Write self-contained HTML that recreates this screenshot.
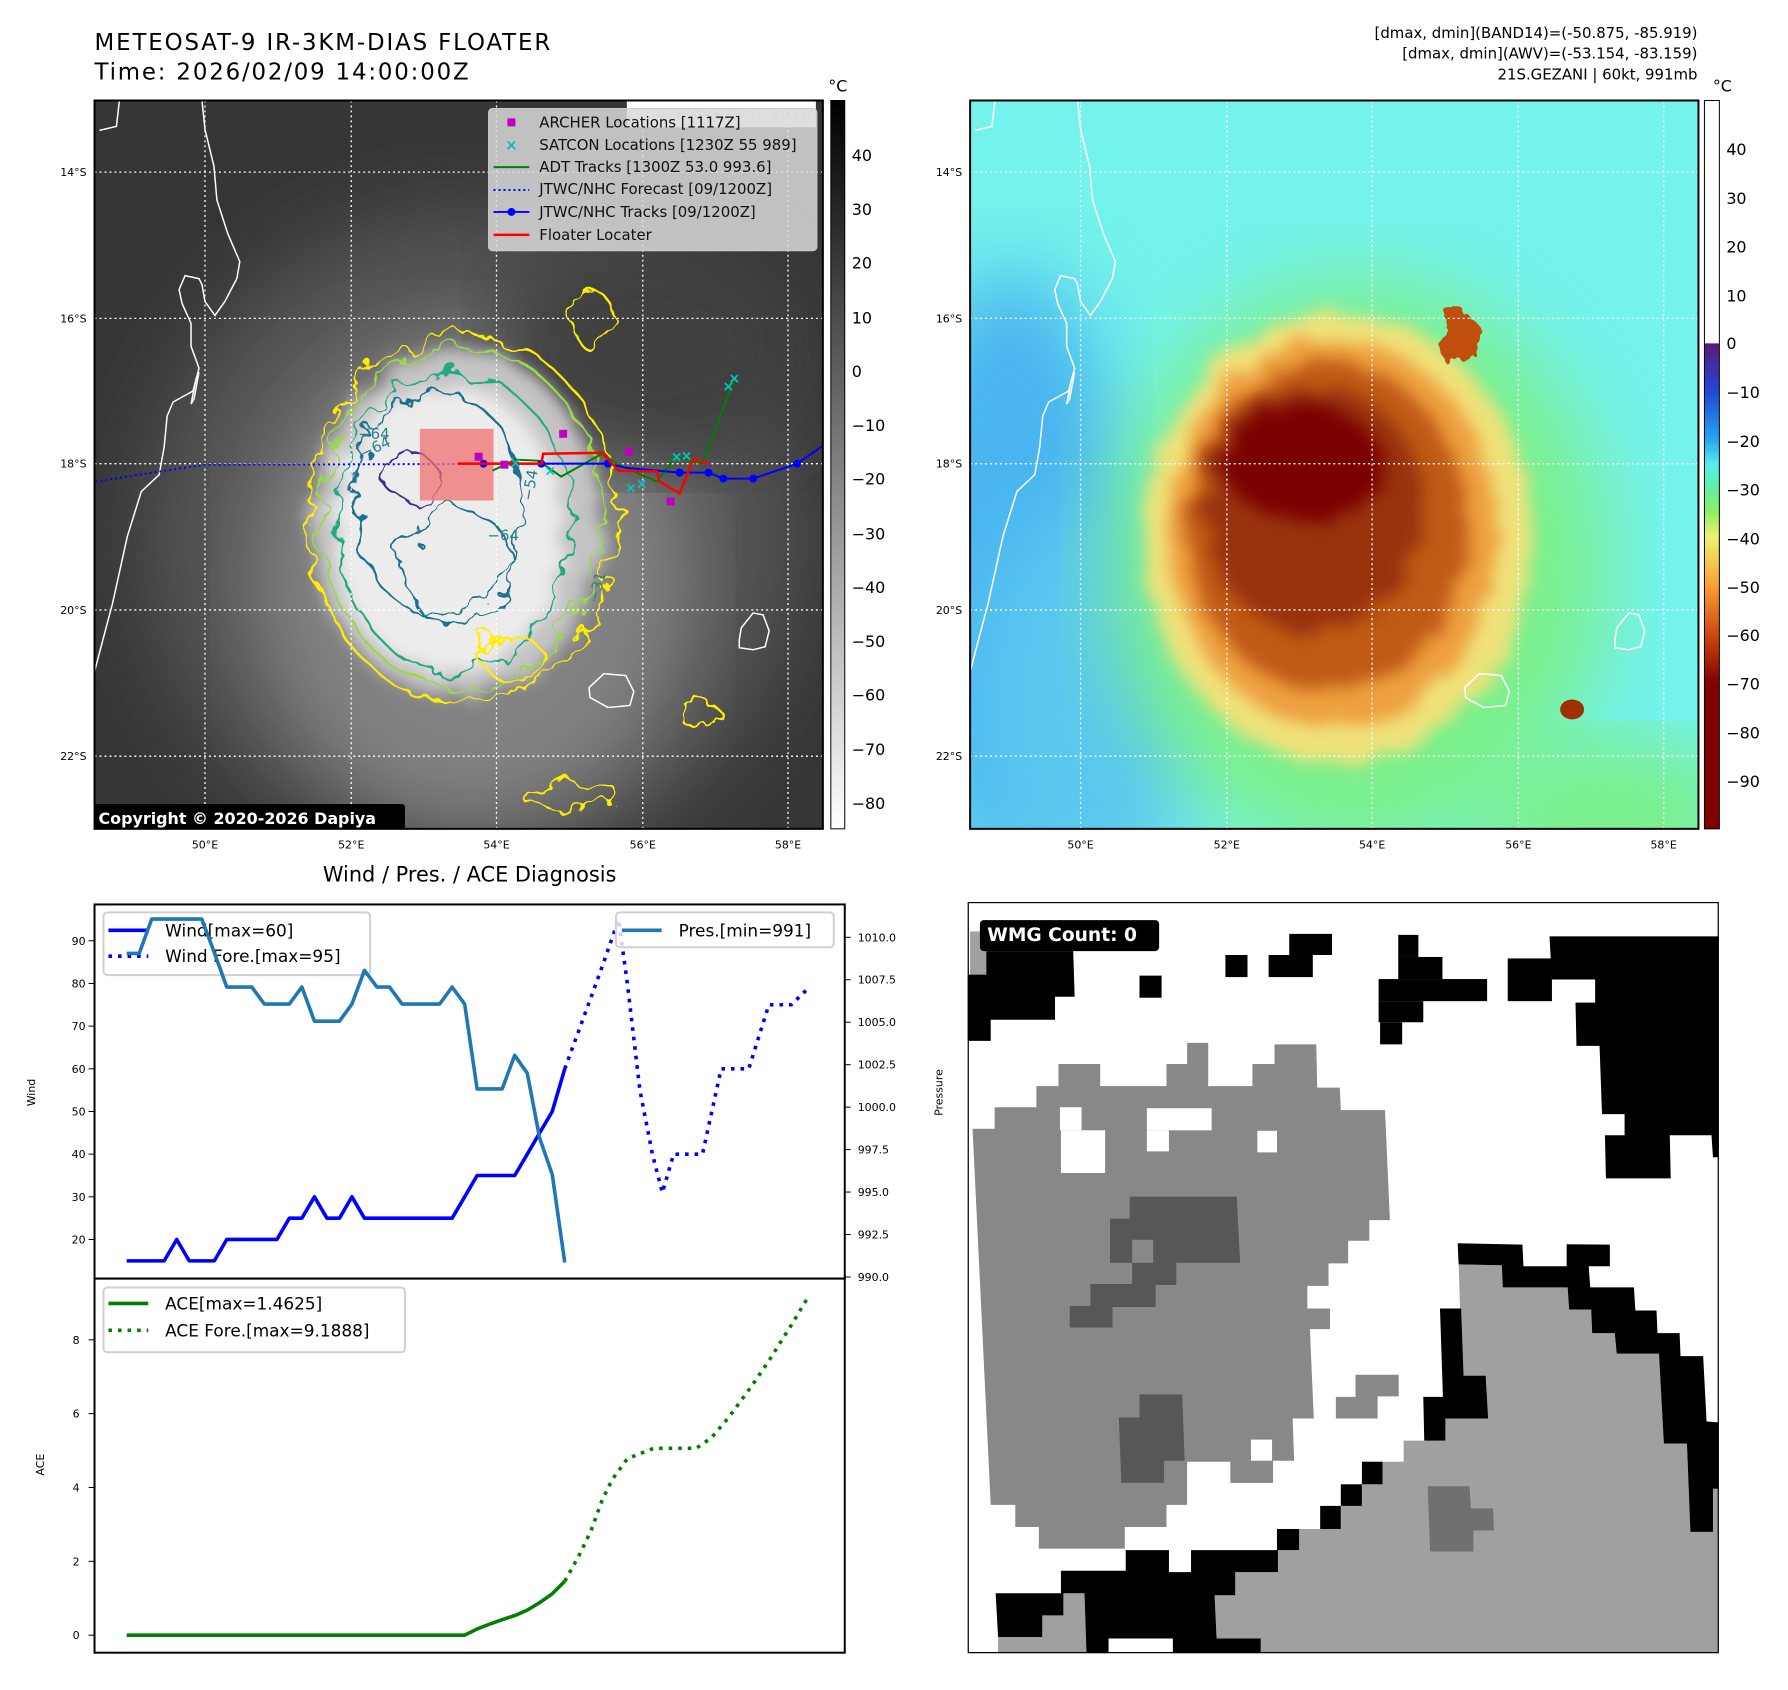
<!DOCTYPE html>
<html><head><meta charset="utf-8"><style>
html,body{margin:0;padding:0;background:#fff;}
svg{display:block;font-family:"DejaVu Sans","Liberation Sans",sans-serif;}
</style></head><body>
<svg id="root" width="1788" height="1690" viewBox="0 0 1788 1690" xmlns="http://www.w3.org/2000/svg">
<defs>
<filter id="wig" x="-20%" y="-20%" width="140%" height="140%"><feTurbulence type="fractalNoise" baseFrequency="0.035" numOctaves="3" seed="4"/><feDisplacementMap in="SourceGraphic" scale="34"/></filter>
<filter id="wig2" x="-20%" y="-20%" width="140%" height="140%"><feTurbulence type="fractalNoise" baseFrequency="0.05" numOctaves="3" seed="9"/><feDisplacementMap in="SourceGraphic" scale="40"/></filter>
<filter id="bl2" x="-30%" y="-30%" width="160%" height="160%"><feTurbulence type="fractalNoise" baseFrequency="0.04" numOctaves="3" seed="2"/><feDisplacementMap in="SourceGraphic" scale="30" result="d"/><feGaussianBlur in="d" stdDeviation="8"/></filter>
<filter id="bl3"><feGaussianBlur stdDeviation="40"/></filter>
<linearGradient id="cbGray" x1="0" y1="0" x2="0" y2="1"><stop offset="0" stop-color="#000"/><stop offset="1" stop-color="#fff"/></linearGradient>
<linearGradient id="cbCol" x1="0" y1="0" x2="0" y2="1">
<stop offset="0" stop-color="#fff"/><stop offset="0.333" stop-color="#fff"/><stop offset="0.334" stop-color="#5b1a7a"/><stop offset="0.4" stop-color="#2048d8"/><stop offset="0.467" stop-color="#28a8f0"/><stop offset="0.5" stop-color="#55eef0"/><stop offset="0.533" stop-color="#60f0a0"/><stop offset="0.567" stop-color="#90f060"/><stop offset="0.6" stop-color="#f0f070"/><stop offset="0.667" stop-color="#f8a030"/><stop offset="0.733" stop-color="#d04810"/><stop offset="0.8" stop-color="#800000"/><stop offset="1" stop-color="#800000"/></linearGradient>
<clipPath id="mapclip"><rect x="0" y="0" width="732" height="732"/></clipPath>
</defs>
<g transform="scale(0.995)">
<!-- Titles -->
<text x="95" y="50" font-size="23" textLength="458">METEOSAT-9 IR-3KM-DIAS FLOATER</text>
<text x="95" y="80" font-size="23" textLength="376">Time: 2026/02/09 14:00:00Z</text>
<g font-size="15" text-anchor="end">
<text x="1706" y="38">[dmax, dmin](BAND14)=(-50.875, -85.919)</text>
<text x="1706" y="59">[dmax, dmin](AWV)=(-53.154, -83.159)</text>
<text x="1706" y="80">21S.GEZANI | 60kt, 991mb</text>
</g>

<!-- LEFT MAP -->
<g transform="translate(95,101)">
<g clip-path="url(#mapclip)">
<rect width="732" height="732" fill="#363636"/>
<ellipse cx="380" cy="440" rx="330" ry="330" fill="#555" filter="url(#bl3)"/>
<ellipse cx="380" cy="480" rx="220" ry="250" fill="#828282" filter="url(#bl3)"/>
<ellipse cx="560" cy="250" rx="160" ry="120" fill="#404040" filter="url(#bl3)"/>
<ellipse cx="365" cy="425" rx="145" ry="175" fill="#c4c4c4" filter="url(#bl2)"/>
<ellipse cx="355" cy="430" rx="115" ry="145" fill="#ececec" filter="url(#bl2)"/>
<g fill="none" stroke-width="2.2" filter="url(#wig)">
<ellipse cx="370" cy="420" rx="155" ry="185" stroke="#ffee00"/>
<ellipse cx="368" cy="418" rx="142" ry="170" stroke="#9bd84a"/>
<ellipse cx="362" cy="425" rx="118" ry="150" stroke="#23a884"/>
<ellipse cx="345" cy="405" rx="85" ry="112" stroke="#1f6f8a"/>
<ellipse cx="365" cy="470" rx="55" ry="60" stroke="#1f6f8a"/>
<ellipse cx="320" cy="380" rx="28" ry="22" stroke="#3b2f8f"/>
<ellipse cx="500" cy="220" rx="20" ry="30" stroke="#ffee00"/>
<ellipse cx="606" cy="615" rx="20" ry="14" stroke="#ffee00"/>
<ellipse cx="480" cy="700" rx="50" ry="12" stroke="#ffee00"/>
<ellipse cx="420" cy="560" rx="30" ry="22" stroke="#ffee00"/>
</g>
<g stroke="#fff" stroke-width="1.3" stroke-dasharray="2 3">
<line x1="111" y1="0" x2="111" y2="732"/><line x1="258" y1="0" x2="258" y2="732"/><line x1="404" y1="0" x2="404" y2="732"/><line x1="551" y1="0" x2="551" y2="732"/><line x1="697" y1="0" x2="697" y2="732"/>
<line x1="0" y1="72" x2="732" y2="72"/><line x1="0" y1="219" x2="732" y2="219"/><line x1="0" y1="365" x2="732" y2="365"/><line x1="0" y1="512" x2="732" y2="512"/><line x1="0" y1="659" x2="732" y2="659"/>
</g>
<g fill="none" stroke="#fff" stroke-width="1.5">
<polyline points="25,0 22,26 5,30"/>
<polyline points="108,0 111,29 120,66 123,100 134,134 146,162 143,179 131,202 121,216 111,202 108,185 105,179 91,176 85,190 88,204 97,224 97,247 105,269 99,292 79,303 73,317 70,348 65,376 47,393 33,438 18,506 15,517 0,574"/>
<polyline points="105,273 100,300 97,305 102,280 105,273"/>
<path d="M650,530 l12,-15 l10,2 l6,16 l-4,16 l-12,3 l-14,-2 l0,-8z"/>
<path d="M497,590 l15,-14 l22,2 l8,16 l-4,14 l-22,2 l-18,-10z"/>
</g>
<!-- tracks -->
<polyline points="1,383 71,372 111,366 516,365" fill="none" stroke="#0000ff" stroke-width="2" stroke-dasharray="2 3"/>
<rect x="327" y="330" width="74" height="72" fill="#f07070" opacity="0.75"/>
<polyline points="400,372 423,361 446,362 469,378 510,355 527,366 565,383 584,358 611,365 643,279" fill="none" stroke="#008000" stroke-width="2"/>
<g><polyline points="391,365 449,365 516,365 533,369 588,374 617,374 632,380 662,380 706,365 732,347" fill="none" stroke="#0000ff" stroke-width="2"/>
<g fill="#0000ff"><circle cx="391" cy="365" r="4"/><circle cx="449" cy="365" r="4"/><circle cx="516" cy="365" r="4"/><circle cx="588" cy="374" r="4"/><circle cx="617" cy="374" r="4"/><circle cx="632" cy="380" r="4"/><circle cx="662" cy="380" r="4"/><circle cx="706" cy="365" r="4"/></g></g>
<polyline points="365,365 412,365 449,365 451,355 510,354 527,372 565,373 568,383 588,395 602,360 617,365" fill="none" stroke="#ff0000" stroke-width="2.5"/>
<g fill="#00c8c8" font-size="14" font-weight="bold" text-anchor="middle"><text x="539" y="394">×</text><text x="550" y="390">×</text><text x="585" y="363">×</text><text x="595" y="362">×</text><text x="637" y="292">×</text><text x="643" y="284">×</text><text x="458" y="377">×</text><text x="423" y="369">×</text></g>
<g fill="#c000c0"><rect x="382" y="354" width="8" height="8"/><rect x="408" y="362" width="8" height="8"/><rect x="467" y="331" width="8" height="8"/><rect x="533" y="349" width="8" height="8"/><rect x="575" y="399" width="8" height="8"/></g>
<g fill="#2a8090" font-size="15"><text x="270" y="360" transform="rotate(-25 270 360)">−64</text><text x="265" y="340">−64</text><text x="395" y="442">−64</text><text x="440" y="403" transform="rotate(-80 440 403)">−54</text><text x="506" y="506" transform="rotate(-75 506 506)">−31</text></g>
<!-- legend -->
<rect x="535" y="0" width="190" height="27" fill="#fff"/>
<text x="720" y="19" font-size="15" font-weight="bold" fill="#e0e0e0" text-anchor="end">© EUMETSAT 2026</text>
<g>
<rect x="396" y="8" width="330" height="143" rx="4" fill="#d9d9d9" fill-opacity="0.85" stroke="#ccc"/>
<rect x="415" y="18" width="8" height="8" fill="#c000c0"/>
<text x="419" y="50" font-size="15" font-weight="bold" fill="#00c0c0" text-anchor="middle">×</text>
<line x1="401" y1="67" x2="437" y2="67" stroke="#008000" stroke-width="2"/>
<line x1="401" y1="90" x2="437" y2="90" stroke="#0000ff" stroke-width="2" stroke-dasharray="2 3"/>
<line x1="401" y1="112" x2="437" y2="112" stroke="#0000ff" stroke-width="2"/><circle cx="419" cy="112" r="4" fill="#0000ff"/>
<line x1="401" y1="135" x2="437" y2="135" stroke="#ff0000" stroke-width="2.5"/>
<g font-size="15" fill="#111"><text x="447" y="27">ARCHER Locations [1117Z]</text><text x="447" y="50">SATCON Locations [1230Z 55 989]</text><text x="447" y="72">ADT Tracks [1300Z 53.0 993.6]</text><text x="447" y="94">JTWC/NHC Forecast [09/1200Z]</text><text x="447" y="117">JTWC/NHC Tracks [09/1200Z]</text><text x="447" y="140">Floater Locater</text></g>
</g>
<rect x="-2" y="707" width="314" height="27" rx="3" fill="#000"/>
<text x="4" y="727" font-size="16" font-weight="bold" fill="#fff">Copyright © 2020-2026 Dapiya</text>
</g>
<rect x="0" y="0" width="732" height="732" fill="none" stroke="#000" stroke-width="2"/>
</g>
<g font-size="11" fill="#000">
<text x="87" y="177" text-anchor="end">14°S</text><text x="87" y="324" text-anchor="end">16°S</text><text x="87" y="470" text-anchor="end">18°S</text><text x="87" y="617" text-anchor="end">20°S</text><text x="87" y="764" text-anchor="end">22°S</text>
<text x="206" y="853" text-anchor="middle">50°E</text><text x="353" y="853" text-anchor="middle">52°E</text><text x="499" y="853" text-anchor="middle">54°E</text><text x="646" y="853" text-anchor="middle">56°E</text><text x="792" y="853" text-anchor="middle">58°E</text>
</g>
<rect x="835" y="101" width="14" height="732" fill="url(#cbGray)" stroke="#000"/>
<g font-size="16"><text x="842" y="92" text-anchor="middle">°C</text>
<text x="856" y="162">40</text><text x="856" y="216">30</text><text x="856" y="270">20</text><text x="856" y="325">10</text><text x="856" y="379">0</text><text x="856" y="433">−10</text><text x="856" y="487">−20</text><text x="856" y="542">−30</text><text x="856" y="596">−40</text><text x="856" y="650">−50</text><text x="856" y="704">−60</text><text x="856" y="759">−70</text><text x="856" y="813">−80</text></g>

<!-- RIGHT MAP -->
<g transform="translate(975,101)">
<g clip-path="url(#mapclip)">
<rect width="732" height="732" fill="#74f2ec"/>
<ellipse cx="40" cy="470" rx="120" ry="300" fill="#48b4f0" filter="url(#bl3)"/>
<ellipse cx="120" cy="600" rx="120" ry="200" fill="#58c8f0" filter="url(#bl3)"/>
<ellipse cx="390" cy="470" rx="250" ry="290" fill="#7cf08a" filter="url(#bl3)"/>
<ellipse cx="640" cy="720" rx="140" ry="80" fill="#7cf08a" filter="url(#bl3)"/>
<ellipse cx="370" cy="440" rx="195" ry="225" fill="#f0e27a" filter="url(#bl2)"/>
<ellipse cx="365" cy="435" rx="165" ry="195" fill="#eea040" filter="url(#bl2)"/>
<ellipse cx="360" cy="430" rx="140" ry="165" fill="#c05a12" filter="url(#bl2)"/>
<ellipse cx="345" cy="410" rx="110" ry="125" fill="#983008" filter="url(#bl2)"/>
<ellipse cx="335" cy="365" rx="80" ry="58" fill="#7a0000" filter="url(#bl2)"/>
<ellipse cx="490" cy="240" rx="22" ry="28" fill="#c05010" filter="url(#wig2)"/>
<ellipse cx="605" cy="612" rx="12" ry="10" fill="#a03000"/>
<g stroke="#fff" stroke-width="1.3" stroke-dasharray="2 3">
<line x1="111" y1="0" x2="111" y2="732"/><line x1="258" y1="0" x2="258" y2="732"/><line x1="404" y1="0" x2="404" y2="732"/><line x1="551" y1="0" x2="551" y2="732"/><line x1="697" y1="0" x2="697" y2="732"/>
<line x1="0" y1="72" x2="732" y2="72"/><line x1="0" y1="219" x2="732" y2="219"/><line x1="0" y1="365" x2="732" y2="365"/><line x1="0" y1="512" x2="732" y2="512"/><line x1="0" y1="659" x2="732" y2="659"/>
</g>
<g fill="none" stroke="#fff" stroke-width="1.5">
<polyline points="25,0 22,26 5,30"/>
<polyline points="108,0 111,29 120,66 123,100 134,134 146,162 143,179 131,202 121,216 111,202 108,185 105,179 91,176 85,190 88,204 97,224 97,247 105,269 99,292 79,303 73,317 70,348 65,376 47,393 33,438 18,506 15,517 0,574"/>
<polyline points="105,273 100,300 97,305 102,280 105,273"/>
<path d="M650,530 l12,-15 l10,2 l6,16 l-4,16 l-12,3 l-14,-2 l0,-8z"/>
<path d="M497,590 l15,-14 l22,2 l8,16 l-4,14 l-22,2 l-18,-10z"/>
</g>
</g>
<rect x="0" y="0" width="732" height="732" fill="none" stroke="#000" stroke-width="2"/>
</g>
<g font-size="11">
<text x="967" y="177" text-anchor="end">14°S</text><text x="967" y="324" text-anchor="end">16°S</text><text x="967" y="470" text-anchor="end">18°S</text><text x="967" y="617" text-anchor="end">20°S</text><text x="967" y="764" text-anchor="end">22°S</text>
<text x="1086" y="853" text-anchor="middle">50°E</text><text x="1233" y="853" text-anchor="middle">52°E</text><text x="1379" y="853" text-anchor="middle">54°E</text><text x="1526" y="853" text-anchor="middle">56°E</text><text x="1672" y="853" text-anchor="middle">58°E</text>
</g>
<rect x="1713" y="101" width="15" height="732" fill="url(#cbCol)" stroke="#000"/>
<g font-size="16"><text x="1731" y="92" text-anchor="middle">°C</text>
<text x="1735" y="156">40</text><text x="1735" y="205">30</text><text x="1735" y="254">20</text><text x="1735" y="303">10</text><text x="1735" y="351">0</text><text x="1735" y="400">−10</text><text x="1735" y="449">−20</text><text x="1735" y="498">−30</text><text x="1735" y="547">−40</text><text x="1735" y="596">−50</text><text x="1735" y="644">−60</text><text x="1735" y="693">−70</text><text x="1735" y="742">−80</text><text x="1735" y="791">−90</text></g>

<!-- WMG -->
<g>
<svg x="972.5" y="906.5" width="755" height="755" viewBox="0 0 1530 1530">
<rect width="1530" height="1530" fill="#fff"/>
<path fill="#888" d="M10,462 L55,462 L55,418 L140,418 L140,375 L185,375 L185,330 L270,330 L270,375 L405,375 L405,330 L447,330 L447,287 L490,287 L490,375 L580,375 L580,330 L625,330 L625,290 L710,290 L712,378 L758,378 L760,424 L850,424 L860,648 L818,648 L818,690 L775,690 L775,736 L735,736 L735,782 L692,782 L692,828 L738,828 L738,870 L697,870 L705,1052 L662,1052 L665,1138 L622,1138 L622,1183 L535,1183 L535,1140 L447,1140 L447,1228 L405,1228 L405,1273 L320,1273 L320,1317 L145,1317 L145,1273 L97,1273 L97,1228 L47,1228 Z"/>
<g fill="#fff"><rect x="188" y="418" width="44" height="47"/><rect x="190" y="465" width="90" height="87"/><rect x="365" y="420" width="132" height="45"/><rect x="365" y="465" width="45" height="43"/><rect x="590" y="466" width="40" height="44"/><rect x="577" y="1095" width="43" height="43"/></g>
<path fill="#575757" d="M330,600 L548,600 L555,735 L425,735 L425,780 L383,780 L383,825 L295,825 L295,867 L208,867 L208,823 L250,823 L250,778 L335,778 L335,735 L290,735 L290,645 L330,645 Z"/>
<rect x="335" y="688" width="43" height="47" fill="#888"/>
<path fill="#575757" d="M350,1003 L437,1003 L442,1138 L400,1138 L400,1183 L313,1183 L308,1050 L350,1050 Z"/>
<path fill="#888" d="M790,963 L878,963 L878,1007 L835,1007 L835,1052 L750,1052 L750,1008 L790,1008 Z"/>
<path fill="#a0a0a0" d="M1000,738 L1088,740 L1090,785 L1222,785 L1225,830 L1270,830 L1272,878 L1318,878 L1322,920 L1408,920 L1418,1103 L1465,1103 L1472,1283 L1518,1283 L1518,1195 L1530,1195 L1530,1530 L597,1530 L597,1500 L507,1500 L503,1412 L545,1412 L545,1365 L632,1365 L632,1320 L675,1320 L675,1277 L760,1277 L760,1230 L803,1230 L803,1186 L845,1186 L845,1140 L888,1140 L888,1097 L973,1097 L973,1052 L1010,1052 Z"/>
<path fill="#a0a0a0" d="M152,1453 L195,1453 L195,1408 L238,1408 L242,1530 L62,1530 L62,1497 L152,1497 Z"/>
<rect x="5" y="60" width="33" height="88" fill="#a0a0a0"/>
<path fill="#707070" d="M937,1190 L1022,1190 L1025,1235 L1070,1235 L1072,1280 L1030,1280 L1030,1323 L942,1323 Z"/>
<g fill="#000">
<path d="M5,148 L38,148 L38,100 L215,100 L218,193 L178,193 L178,240 L47,240 L47,283 L0,283 L0,148 Z"/>
<rect x="350" y="150" width="45" height="45"/><rect x="525" y="108" width="45" height="45"/><rect x="655" y="65" width="87" height="43"/><rect x="613" y="108" width="90" height="45"/>
<rect x="877" y="67" width="41" height="45"/><rect x="877" y="112" width="90" height="45"/><rect x="837" y="157" width="221" height="45"/><rect x="837" y="202" width="91" height="43"/><rect x="840" y="245" width="45" height="45"/>
<rect x="1100" y="115" width="90" height="87"/>
<path d="M1185,70 L1530,70 L1530,520 L1518,520 L1515,475 L1430,475 L1432,563 L1300,563 L1298,475 L1338,475 L1338,432 L1292,432 L1287,293 L1240,293 L1238,205 L1278,205 L1278,158 L1190,158 Z"/>
<path d="M998,695 L1130,698 L1132,742 L1220,742 L1220,697 L1308,698 L1308,742 L1265,742 L1268,785 L1357,785 L1360,832 L1403,832 L1405,878 L1450,878 L1452,925 L1498,925 L1505,1058 L1530,1060 L1530,1195 L1518,1195 L1518,1283 L1472,1283 L1465,1103 L1418,1103 L1408,920 L1322,920 L1318,878 L1272,878 L1270,830 L1225,830 L1222,785 L1090,785 L1088,740 L1000,738 Z"/>
<path d="M962,828 L1005,828 L1010,965 L1055,965 L1060,1052 L973,1052 L973,1097 L930,1097 L928,1008 L968,1008 Z"/>
<rect x="803" y="1140" width="42" height="46"/><rect x="760" y="1186" width="43" height="44"/><rect x="718" y="1230" width="42" height="47"/><rect x="630" y="1277" width="45" height="43"/>
<path d="M322,1320 L410,1320 L410,1365 L455,1365 L455,1320 L632,1320 L632,1365 L545,1365 L545,1412 L503,1412 L507,1500 L597,1500 L597,1530 L418,1530 L418,1500 L287,1500 L287,1530 L242,1530 L238,1408 L195,1408 L195,1453 L152,1453 L152,1497 L62,1497 L57,1408 L190,1408 L190,1362 L322,1362 Z"/>
</g>
<rect x="25" y="37" width="365" height="63" rx="8" fill="#000"/>
<text x="40" y="80" font-size="38" font-weight="bold" fill="#fff">WMG Count: 0</text>
<rect x="0" y="0" width="1530" height="1530" fill="none" stroke="#000" stroke-width="5"/>
</svg>
</g>

<!-- Diagnosis chart -->
<text x="472" y="886" font-size="21" text-anchor="middle">Wind / Pres. / ACE Diagnosis</text>
<g id="chart"></g>
</g>
</svg>
<script>
const windObs=[15,15,15,15,20,15,15,15,20,20,20,20,20,25,25,30,25,25,30,25,25,25,25,25,25,25,25,30,35,35,35,35,40,45,50,60];
const presObs=[1009.05,1009.05,1011.07,1011.07,1011.07,1011.07,1011.07,1009.1,1007.07,1007.07,1007.07,1006.07,1006.07,1006.07,1007.07,1005.06,1005.06,1005.06,1006.07,1008.05,1007.07,1007.07,1006.07,1006.07,1006.07,1006.07,1007.07,1006.07,1001.07,1001.07,1001.07,1003.05,1002,998.17,996.04,990.85];
const aceObs=[0,0,0,0,0,0,0,0,0,0,0,0,0,0,0,0,0,0,0,0,0,0,0,0,0,0,0,0,0.17,0.3,0.42,0.53,0.68,0.88,1.12,1.46];
const windFcstIdx=[35,36.5,38,39.3,40,41,42,42.8,43.7,46,47.5,49.7,51.3,53.1,54.5];
const windFcstVal=[60,72,84,95,80,55,40,31,40,40,60,60,75,75,79];
const aceFcstIdx=[35,36.1,37.1,38,38.8,40,42.1,45.5,46.7,48.1,49.9,51.3,53.1,54.5];
const aceFcstVal=[1.46,2.13,2.83,3.67,4.22,4.78,5.06,5.06,5.34,5.9,6.73,7.43,8.4,9.19];
const windTicks=[20,30,40,50,60,70,80,90];
const presTicks=[990.0,992.5,995.0,997.5,1000.0,1002.5,1005.0,1007.5,1010.0];
const aceTicks=[0,2,4,6,8];

const NS='http://www.w3.org/2000/svg';
const chart=document.getElementById('chart');
const X=i=>127.3+i*12.58;
const YW=v=>945.5+(90-v)*4.289;
const YP=p=>942+(1010-p)*17.07;
const YA=a=>1643.4-a*37.11;
function mk(tag,attrs,parent){const e=document.createElementNS(NS,tag);for(const k in attrs)e.setAttribute(k,attrs[k]);(parent||chart).appendChild(e);return e;}
function txt(x,y,s,size,anchor,parent){const t=mk('text',{x:x,y:y,'font-size':size,'text-anchor':anchor||'start'},parent);t.textContent=s;return t;}
function pts(xs,ys){return xs.map((x,k)=>x.toFixed(1)+','+ys[k].toFixed(1)).join(' ');}

let f1=mk('rect',{x:95,y:909,width:754,height:376,fill:'none',stroke:'#000','stroke-width':2});


let f2=mk('rect',{x:95,y:1285,width:754,height:376,fill:'none',stroke:'#000','stroke-width':2});



windTicks.forEach(v=>{const y=YW(v);mk('line',{x1:89,y1:y,x2:95,y2:y,stroke:'#000'});const t=txt(86,y+4,String(v),11,'end');

});
presTicks.forEach(p=>{const y=YP(p);mk('line',{x1:849,y1:y,x2:855,y2:y,stroke:'#000'});const t=txt(862,y+4,p.toFixed(1),11,'start');

});
aceTicks.forEach(a=>{const y=YA(a);mk('line',{x1:89,y1:y,x2:95,y2:y,stroke:'#000'});const t=txt(80,y+4,String(a),11,'end');

});
let yl1=txt(35,1098,'Wind',11,'middle');yl1.setAttribute('transform','rotate(-90 35 1098)');


let yl2=txt(947,1098,'Pressure',11,'middle');yl2.setAttribute('transform','rotate(-90 947 1098)');


let yl3=txt(44,1472,'ACE',11,'middle');yl3.setAttribute('transform','rotate(-90 44 1472)');



let wl=mk('polyline',{points:pts(windObs.map((v,i)=>X(i)),windObs.map(YW)),fill:'none',stroke:'#0000ff','stroke-width':3.6,'stroke-linejoin':'round'});


let wf=mk('polyline',{points:pts(windFcstIdx.map(X),windFcstVal.map(YW)),fill:'none',stroke:'#0000ff','stroke-width':3.6,'stroke-dasharray':'3.6 6'});


let lg1=mk('g',{});


mk('rect',{x:104,y:917,width:268,height:63,rx:4,fill:'#fff','fill-opacity':0.8,stroke:'#d0d0d0','stroke-width':2},lg1);
mk('line',{x1:109,y1:935,x2:149,y2:935,stroke:'#0000ff','stroke-width':3.6},lg1);
mk('line',{x1:109,y1:961,x2:149,y2:961,stroke:'#0000ff','stroke-width':3.6,'stroke-dasharray':'3.6 6'},lg1);
txt(166,941,'Wind[max=60]',17,'start',lg1);
txt(166,967,'Wind Fore.[max=95]',17,'start',lg1);
let pl=mk('polyline',{points:pts(presObs.map((v,i)=>X(i)),presObs.map(YP)),fill:'none',stroke:'#1f77b4','stroke-width':3.6,'stroke-linejoin':'round'});


let lg2=mk('g',{});


mk('rect',{x:619,y:917,width:219,height:35,rx:4,fill:'#fff','fill-opacity':0.8,stroke:'#d0d0d0','stroke-width':2},lg2);
mk('line',{x1:625,y1:935,x2:665,y2:935,stroke:'#1f77b4','stroke-width':3.6},lg2);
txt(682,941,'Pres.[min=991]',17,'start',lg2);
let al=mk('polyline',{points:pts(aceObs.map((v,i)=>X(i)),aceObs.map(YA)),fill:'none',stroke:'#008000','stroke-width':3.6,'stroke-linejoin':'round'});


let af=mk('polyline',{points:pts(aceFcstIdx.map(X),aceFcstVal.map(YA)),fill:'none',stroke:'#008000','stroke-width':3.6,'stroke-dasharray':'3.6 6'});


let lg3=mk('g',{});


mk('rect',{x:104,y:1294,width:303,height:65,rx:4,fill:'#fff','fill-opacity':0.8,stroke:'#d0d0d0','stroke-width':2},lg3);
mk('line',{x1:109,y1:1310,x2:149,y2:1310,stroke:'#008000','stroke-width':3.6},lg3);
mk('line',{x1:109,y1:1337,x2:149,y2:1337,stroke:'#008000','stroke-width':3.6,'stroke-dasharray':'3.6 6'},lg3);
txt(166,1316,'ACE[max=1.4625]',17,'start',lg3);
txt(166,1343,'ACE Fore.[max=9.1888]',17,'start',lg3);
</script>
</body></html>
